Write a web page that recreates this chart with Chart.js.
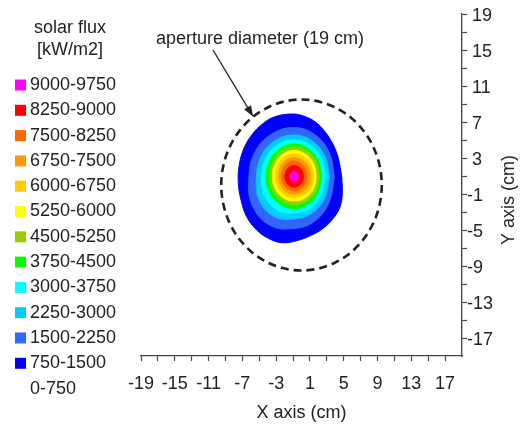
<!DOCTYPE html>
<html>
<head>
<meta charset="utf-8">
<title>Solar flux distribution at the aperture</title>
<script src="https://cdn.jsdelivr.net/npm/chart.js@4.4.1/dist/chart.umd.min.js"></script>
<style>
  html, body { margin: 0; padding: 0; background: #fff; }
  #wrap { width: 523px; height: 425px; }
</style>
</head>
<body>
<div id="wrap"><canvas id="fluxChart" width="523" height="425"></canvas></div>
<script>
// flux bands, highest first (kW/m2)
var fluxLevels = ['9000-9750', '8250-9000', '7500-8250', '6750-7500', '6000-6750', '5250-6000',
                  '4500-5250', '3750-4500', '3000-3750', '2250-3000', '1500-2250', '750-1500', '0-750'];
var levelColors = ['#ff00ff', '#ff0000', '#ff6600', '#ff9900', '#ffcc00', '#ffff00',
                   '#99cc00', '#00ff00', '#00ffff', '#00ccff', '#3366ff', '#0000ff', '#ffffff'];

// outline of each band (x, y in cm)
var ring9000 = [[-0.36,0.94],[-0.43,1.22],[-0.63,1.43],[-0.89,1.50],[-1.15,1.43],[-1.35,1.22],
                [-1.42,0.94],[-1.35,0.66],[-1.15,0.45],[-0.89,0.38],[-0.63,0.45],[-0.43,0.66]];
var ring8250 = [[0.23,0.94],[0.08,1.55],[-0.33,2.00],[-0.89,2.16],[-1.43,2.00],[-1.82,1.55],
                [-1.96,0.94],[-1.82,0.36],[-1.43,-0.07],[-0.89,-0.23],[-0.33,-0.07],[0.08,0.36]];
var ring7500 = [[0.65,0.94],[0.44,1.80],[-0.12,2.43],[-0.89,2.66],[-1.63,2.43],[-2.17,1.80],
                [-2.37,0.94],[-2.17,0.16],[-1.63,-0.41],[-0.89,-0.62],[-0.12,-0.41],[0.44,0.16]];
var ring6750 = [[1.06,0.94],[0.80,2.00],[0.09,2.77],[-0.89,3.05],[-1.81,2.77],[-2.47,2.00],
                [-2.72,0.94],[-2.47,-0.03],[-1.81,-0.74],[-0.89,-1.00],[0.09,-0.74],[0.80,-0.03]];
var ring6000 = [[1.42,0.94],[1.11,2.19],[0.27,3.11],[-0.89,3.44],[-1.99,3.11],[-2.79,2.19],
                [-3.08,0.94],[-2.79,-0.23],[-1.99,-1.08],[-0.89,-1.39],[0.27,-1.08],[1.11,-0.23]];
var ring5250 = [[1.77,0.94],[1.41,2.39],[0.44,3.44],[-0.89,3.83],[-2.17,3.44],[-3.10,2.39],
                [-3.44,0.94],[-3.10,-0.42],[-2.17,-1.42],[-0.89,-1.78],[0.44,-1.42],[1.41,-0.42]];
var ring4500 = [[2.13,0.94],[1.73,2.58],[0.62,3.78],[-0.89,4.22],[-2.34,3.78],[-3.40,2.58],
                [-3.79,0.94],[-3.40,-0.62],[-2.34,-1.75],[-0.89,-2.17],[0.62,-1.75],[1.73,-0.62]];
var ring3750 = [[2.37,0.94],[1.93,2.75],[0.74,4.07],[-0.89,4.55],[-2.55,4.07],[-3.76,2.75],
                [-4.20,0.94],[-3.76,-0.84],[-2.55,-2.14],[-0.89,-2.62],[0.74,-2.14],[1.93,-0.84]];
var ring3000 = [[2.84,0.94],[2.34,2.97],[0.98,4.46],[-0.89,5.00],[-2.82,4.46],[-4.22,2.97],
                [-4.74,0.94],[-4.39,-1.19],[-2.91,-2.75],[-0.89,-3.12],[0.98,-2.58],[2.34,-1.09]];
var ring2250 = [[3.31,0.94],[2.75,3.25],[1.21,4.93],[-0.89,5.55],[-3.11,4.93],[-4.74,3.25],
                [-5.33,0.94],[-5.04,-1.61],[-3.29,-3.47],[-0.89,-3.78],[1.21,-3.15],[2.75,-1.42]];
var ring1500 = [[3.90,0.94],[3.26,3.66],[1.51,5.65],[-0.89,6.38],[-3.56,5.65],[-5.51,3.66],
                [-6.22,0.94],[-5.87,-2.18],[-3.77,-4.47],[-0.89,-4.84],[1.51,-4.06],[3.26,-1.95]];
var ring750 = [[4.76,0.92],[4.36,2.97],[3.77,4.44],[2.78,5.92],[1.60,7.03],[0.21,7.67],
               [-1.16,7.89],[-3.14,7.59],[-4.52,6.86],[-5.89,5.56],[-6.89,3.89],[-7.40,2.03],
               [-7.48,0.19],[-7.16,-1.67],[-6.49,-3.52],[-5.30,-5.00],[-3.93,-5.92],[-2.34,-6.41],
               [-0.57,-6.19],[1.21,-5.56],[2.58,-4.81],[3.77,-3.70],[4.56,-2.41],[4.83,-0.92]];
var contourRings = [ring9000, ring8250, ring7500, ring6750, ring6000, ring5250,
                    ring4500, ring3750, ring3000, ring2250, ring1500, ring750];

// aperture outline, cm
var apertureCenter = [0, 0];
var apertureDiameter = 19;

var xTickLabels = [-19, -15, -11, -7, -3, 1, 5, 9, 13, 17];
var xMinorTicks = [-17, -13, -9, -5, -1, 3, 7, 11, 15];
var yTickLabels = [19, 15, 11, 7, 3, -1, -5, -9, -13, -17];
var yMinorTicks = [17, 13, 9, 5, 1, -3, -7, -11, -15];

var FONT = "'Liberation Sans', Arial, Helvetica, sans-serif";
var INK = '#222';
var AXIS = '#444';

Chart.defaults.font.family = FONT;
Chart.defaults.font.size = 18;
Chart.defaults.color = INK;

function buildTicks(major, minor) {
    return function (scale) {
        var vals = major.concat(minor).sort(function (a, b) { return a - b; });
        scale.ticks = vals.map(function (v) { return {value: v}; });
    };
}

var datasets = contourRings.map(function (ring, i) {
    var pts = ring.map(function (p) { return {x: p[0], y: p[1]}; });
    pts.push({x: ring[0][0], y: ring[0][1]});
    return {
        label: fluxLevels[i],
        data: pts,
        showLine: true,
        fill: 'shape',
        backgroundColor: levelColors[i],
        borderColor: levelColors[i],
        borderWidth: 1,
        pointRadius: 0,
        tension: 0.4
    };
});

// legend, aperture circle, arrow note and the right-hand axis title
var decorations = {
    id: 'decorations',
    afterDatasetsDraw: function (chart) {
        var ctx = chart.ctx;
        var xs = chart.scales.x, ys = chart.scales.y;

        // dashed aperture
        var cx = xs.getPixelForValue(apertureCenter[0]);
        var cy = ys.getPixelForValue(apertureCenter[1]);
        var rx = xs.getPixelForValue(apertureCenter[0] + apertureDiameter / 2) - cx;
        var ry = cy - ys.getPixelForValue(apertureCenter[1] + apertureDiameter / 2);
        ctx.save();
        ctx.strokeStyle = INK;
        ctx.lineWidth = 2.6;
        ctx.setLineDash([8, 5]);
        ctx.beginPath();
        ctx.ellipse(cx, cy, rx, ry, 0, 0, Math.PI * 2);
        ctx.stroke();
        ctx.restore();

        // arrow from the note to the aperture edge
        var ang = 127 * Math.PI / 180;
        var tipX = xs.getPixelForValue(apertureCenter[0] + Math.cos(ang) * apertureDiameter / 2);
        var tipY = ys.getPixelForValue(apertureCenter[1] + Math.sin(ang) * apertureDiameter / 2);
        var tailX = 213, tailY = 50;
        var a = Math.atan2(tipY - tailY, tipX - tailX);
        ctx.save();
        ctx.strokeStyle = INK;
        ctx.fillStyle = INK;
        ctx.lineWidth = 1.3;
        ctx.beginPath();
        ctx.moveTo(tailX, tailY);
        ctx.lineTo(tipX - 6 * Math.cos(a), tipY - 6 * Math.sin(a));
        ctx.stroke();
        ctx.beginPath();
        ctx.moveTo(tipX, tipY);
        ctx.lineTo(tipX - 11 * Math.cos(a) + 4 * Math.sin(a), tipY - 11 * Math.sin(a) - 4 * Math.cos(a));
        ctx.lineTo(tipX - 11 * Math.cos(a) - 4 * Math.sin(a), tipY - 11 * Math.sin(a) + 4 * Math.cos(a));
        ctx.closePath();
        ctx.fill();

        ctx.font = '18px ' + FONT;
        ctx.textBaseline = 'middle';
        ctx.textAlign = 'left';
        ctx.fillText('aperture diameter (19 cm)', 156, 39);

        // Y title reads bottom to top
        ctx.save();
        ctx.translate(509, 200);
        ctx.rotate(-Math.PI / 2);
        ctx.textAlign = 'center';
        ctx.fillText('Y axis (cm)', 0, 0);
        ctx.restore();

        // legend
        ctx.textAlign = 'center';
        ctx.fillText('solar flux', 70, 28);
        ctx.fillText('[kW/m2]', 70, 50);
        ctx.textAlign = 'left';
        for (var i = 0; i < fluxLevels.length; i++) {
            var y = 85 + i * 25.3;
            if (levelColors[i] !== '#ffffff') {
                ctx.fillStyle = levelColors[i];
                ctx.fillRect(15, y - 5.5, 11, 11);
            }
            ctx.fillStyle = INK;
            ctx.fillText(fluxLevels[i], 30, y);
        }
        ctx.restore();
    }
};

new Chart(document.getElementById('fluxChart'), {
    type: 'scatter',
    data: {datasets: datasets},
    options: {
        responsive: false,
        animation: false,
        events: [],
        layout: {padding: {left: 141, top: 14, right: 0, bottom: 0}},
        plugins: {
            legend: {display: false},
            tooltip: {enabled: false}
        },
        scales: {
            x: {
                type: 'linear',
                position: 'bottom',
                min: -19,
                max: 19,
                afterBuildTicks: buildTicks(xTickLabels, xMinorTicks),
                afterFit: function (scale) { scale.height = 69; },
                grid: {drawOnChartArea: false, tickLength: 5, tickColor: AXIS, tickWidth: 1.2},
                border: {color: AXIS, width: 1.3},
                ticks: {
                    autoSkip: false,
                    maxRotation: 0,
                    padding: 12,
                    callback: function (v) { return xTickLabels.indexOf(v) >= 0 ? String(v) : ''; }
                },
                title: {display: true, text: 'X axis (cm)', padding: {top: 0, bottom: 1}}
            },
            y: {
                type: 'linear',
                position: 'right',
                min: -19,
                max: 19,
                afterBuildTicks: buildTicks(yTickLabels, yMinorTicks),
                afterFit: function (scale) { scale.width = 61; },
                grid: {drawOnChartArea: false, tickLength: 5, tickColor: AXIS, tickWidth: 1.2},
                border: {color: AXIS, width: 1.3},
                ticks: {
                    autoSkip: false,
                    padding: 0,
                    labelOffset: 2,
                    callback: function (v) {
                        if (yTickLabels.indexOf(v) < 0) return '';
                        return v < 0 ? String(v) : ' ' + v;
                    }
                }
            }
        }
    },
    plugins: [decorations]
});
</script>
</body>
</html>
